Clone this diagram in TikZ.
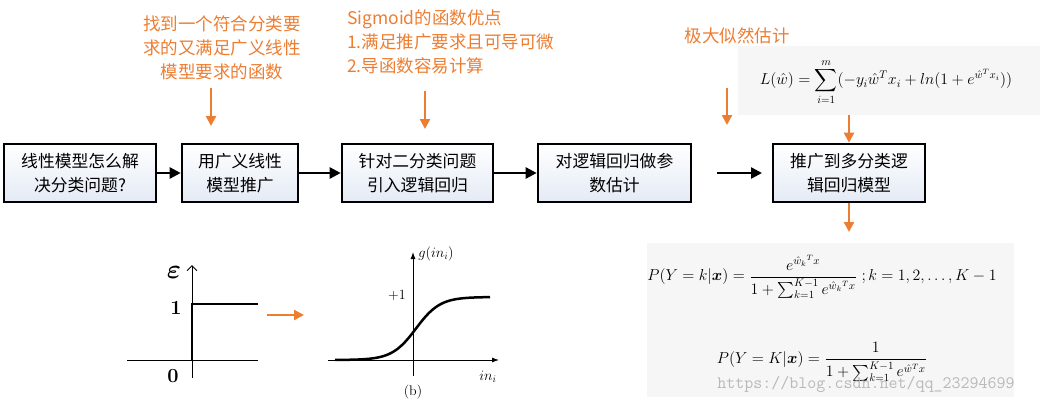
\documentclass[tikz,border=0pt]{standalone}
\usepackage{fontspec}
\usepackage{amsmath}
\usepackage{graphicx}
\usepackage{tikz}
\usetikzlibrary{positioning,arrows.meta,calc}
\newfontfamily\cjk{Noto Sans CJK SC}
\definecolor{ink}{HTML}{000000}
\definecolor{note}{HTML}{ED7D31}
\definecolor{paper}{HTML}{F6F6F6}
\definecolor{boxlo}{HTML}{E4EAF5}

\begin{document}
\begin{tikzpicture}[x=1pt,y=-1pt,
  stage/.style={rectangle,draw=ink,line width=2.6pt,top color=white,bottom color=boxlo,
    minimum height=58pt,align=center,inner sep=0pt,font=\cjk\fontsize{16.8}{24}\selectfont},
  hint/.style={text=note,inner sep=0pt,font=\cjk\fontsize{17.5}{24}\selectfont},
  flow/.style={ink,line width=2.4pt,-{Triangle[length=11pt,width=11pt]}},
  push/.style={note,line width=2.2pt,-{Triangle[length=10pt,width=10pt]}},
  eqn/.style={inner sep=0pt,font=\fontsize{14}{17}\selectfont},
  axis/.style={ink,line width=0.9pt},
  tag/.style={inner sep=1pt,font=\fontsize{14}{14}\selectfont}
]
\useasboundingbox (0,0) rectangle (1043,404);
% ---- main chain
\node[stage,minimum width=152pt] (s1) at (80,173) {线性模型怎么解\\决分类问题?};
\node[stage,minimum width=116pt] (s2) at (240,173) {用广义线性\\模型推广};
\node[stage,minimum width=151pt] (s3) at (417.5,173) {针对二分类问题\\引入逻辑回归};
\node[stage,minimum width=153pt] (s4) at (614.5,173) {对逻辑回归做参\\数估计};
\node[stage,minimum width=152pt] (s5) at (849,173) {推广到多分类逻\\辑回归模型};
\draw[flow] (s1) -- (s2);
\draw[flow] (s2) -- (s3);
\draw[flow] (s3) -- (s4);
\coordinate (gapA) at (717,173);
\coordinate (gapB) at (762,173);
\draw[flow] (gapA) -- (gapB);

% ---- orange hints
\node[hint,align=center] (h1) at (222,48) {找到一个符合分类要\\求的又满足广义线性\\模型要求的函数};
\node[hint,align=left,anchor=west] (h2) at (347,42) {Sigmoid的函数优点\\1.满足推广要求且可导可微\\2.导函数容易计算};
\node[hint] (h3) at (737,36) {极大似然估计};
\foreach \x/\a/\b in {211/88/126, 425/91/129, 727/88/125}
  \draw[push] (\x,\a) -- (\x,\b);

% ---- likelihood
\fill[paper] (738,46) rectangle (1040,115);
\node[eqn] (lik) at (886,82)
  {\scalebox{1.1}{$\displaystyle L(\hat{w})=\sum_{i=1}^{m}(-y_i\hat{w}^Tx_i+ln(1+e^{\hat{w}^Tx_i}))$}};
\draw[push] (849,115) -- (s5.north);
\coordinate (down) at (849,232);
\draw[push] (s5.south) -- (down);

% ---- multi-class model
\fill[paper] (647,243) rectangle (1014,397);
\node[eqn] (pk) at (822,277)
  {\scalebox{1.1}{$P(Y=k|\boldsymbol{x})=\dfrac{e^{\hat{w}_k{}^T x}}{1+\sum_{k=1}^{K-1}e^{\hat{w}_k{}^T x}}\;;k=1,2,\ldots,K-1$}};
\node[eqn] (pK) at (822,362)
  {\scalebox{1.1}{$P(Y=K|\boldsymbol{x})=\dfrac{1}{1+\sum_{k=1}^{K-1}e^{\hat{w}^T x}}$}};
\node[text=gray!55,font=\ttfamily\fontsize{17.5}{18}\selectfont] (mark) at (866,384) {https://blog.csdn.net/qq\_23294699};

% ---- step function
\draw[axis,-{Straight Barb[length=5pt,width=10pt]}] (192,378) -- (192,265);
\draw[axis] (127,360) -- (258,360);
\draw[ink,line width=1.5pt] (192,360) -- (192,304) -- (258,304);
\node[inner sep=0pt,font=\fontsize{20}{20}\selectfont] (eps) at (174,273) {\scalebox{1.3}{$\boldsymbol{\varepsilon}$}};
\node[inner sep=0pt,font=\bfseries\fontsize{20}{20}\selectfont] (one) at (176,308) {1};
\node[inner sep=0pt,font=\bfseries\fontsize{20}{20}\selectfont] (zero) at (173,376) {0};
\coordinate (mapA) at (267,315);
\coordinate (mapB) at (304,315);
\draw[push] (mapA) -- (mapB);

% ---- sigmoid
\draw[axis,-{Latex[length=7pt,width=5pt]}] (413,376) -- (413,252);
\draw[axis,-{Latex[length=7pt,width=5pt]}] (328,360) -- (499,360);
\draw[ink,line width=2.5pt] plot[domain=335:490,samples=70] (\x,{360-63/(1+exp(-(\x-416)/12))});
\node[tag] (gl) at (436,254) {$g(in_i)$};
\node[tag] (pl) at (397,295) {+1};
\node[tag] (il) at (488,377) {$in_i$};
\node[tag] (bl) at (413,392) {(b)};
\end{tikzpicture}
\end{document}
